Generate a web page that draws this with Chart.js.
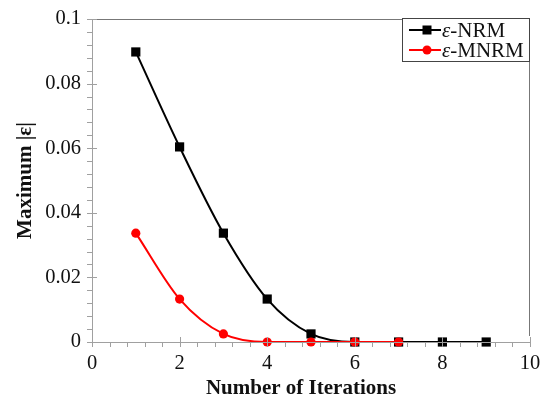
<!DOCTYPE html>
<html>
<head>
<meta charset="utf-8">
<script src="https://cdn.jsdelivr.net/npm/chart.js@4.4.1/dist/chart.umd.min.js"></script>
<style>
html,body{margin:0;padding:0;background:#fff;}
canvas{display:block;}
</style>
</head>
<body>
<canvas id="c" width="540" height="399"></canvas>
<script>
// ---- data ----
const iterationsNRM = [1, 2, 3, 4, 5, 6, 7, 8, 9];
const valuesNRM = [0.0898, 0.0604, 0.0337, 0.0133, 0.0025, 0, 0, 0, 0];
const iterationsMNRM = [1, 2, 3, 4, 5, 6, 7];
const valuesMNRM = [0.0337, 0.0133, 0.0025, 0, 0, 0, 0];
const seriesNames = ['ε-NRM', 'ε-MNRM'];
const xTitle = 'Number of Iterations';
const yTitle = 'Maximum |ε|';

const SERIF = '"Liberation Serif", "Times New Roman", serif';

const ticksPlugin = {
  id: 'customTicks',
  afterDraw(chart) {
    const ctx = chart.ctx;
    const xs = chart.scales.x, ys = chart.scales.y;
    const ca = chart.chartArea;
    ctx.save();
    // frame top and right
    ctx.strokeStyle = '#777';
    ctx.lineWidth = 1;
    ctx.beginPath();
    ctx.moveTo(ca.left, Math.round(ca.top) + 0.5);
    ctx.lineTo(ca.right, Math.round(ca.top) + 0.5);
    ctx.moveTo(Math.round(ca.right) - 0.5, ca.top);
    ctx.lineTo(Math.round(ca.right) - 0.5, ca.bottom - 6);
    ctx.stroke();
    // axis lines
    ctx.strokeStyle = '#a0a0a0';
    ctx.beginPath();
    ctx.moveTo(Math.round(ca.left) + 0.5, ca.top);
    ctx.lineTo(Math.round(ca.left) + 0.5, ca.bottom);
    ctx.moveTo(ca.left, Math.round(ca.bottom) + 0.5);
    ctx.lineTo(ca.right, Math.round(ca.bottom) + 0.5);
    // x ticks every 0.4, major every 2
    for (let i = 0; i <= 25; i++) {
      const v = i * 0.4;
      const px = Math.round(xs.getPixelForValue(v)) + 0.5;
      const major = (i % 5 === 0);
      ctx.moveTo(px, ca.bottom + (major ? -5 : 0));
      ctx.lineTo(px, ca.bottom + 5);
    }
    // y ticks every 0.004, major every 0.02
    for (let i = 0; i <= 25; i++) {
      const v = i * 0.004;
      const py = Math.round(ys.getPixelForValue(v)) + 0.5;
      const major = (i % 5 === 0);
      ctx.moveTo(ca.left - 5, py);
      ctx.lineTo(ca.left + (major ? 5 : 0), py);
    }
    ctx.stroke();

    // x axis title
    ctx.fillStyle = '#111';
    ctx.font = 'bold 21px ' + SERIF;
    ctx.textAlign = 'center';
    ctx.textBaseline = 'alphabetic';
    ctx.fillText(xTitle, 301, 394);

    // legend
    const lx = 402, ly = 18, lw = 127, lh = 43;
    ctx.fillStyle = '#fff';
    ctx.fillRect(lx, ly, lw, lh);
    ctx.strokeStyle = '#444';
    ctx.lineWidth = 1;
    ctx.strokeRect(lx + 0.5, ly + 0.5, lw, lh);
    const rows = [
      {name: seriesNames[0], color: '#000', shape: 'square', y: 30},
      {name: seriesNames[1], color: '#ff0000', shape: 'circle', y: 50}
    ];
    rows.forEach(r => {
      ctx.strokeStyle = r.color;
      ctx.lineWidth = 2;
      ctx.beginPath();
      ctx.moveTo(409, r.y);
      ctx.lineTo(441, r.y);
      ctx.stroke();
      ctx.fillStyle = r.color;
      if (r.shape === 'square') {
        ctx.fillRect(427 - 4.5, r.y - 4.5, 9, 9);
      } else {
        ctx.beginPath();
        ctx.arc(427, r.y, 4.5, 0, Math.PI * 2);
        ctx.fill();
      }
      ctx.fillStyle = '#111';
      ctx.textBaseline = 'alphabetic';
      ctx.textAlign = 'left';
      ctx.font = 'italic 21px ' + SERIF;
      const eps = r.name.charAt(0);
      ctx.fillText(eps, 442, r.y + 7);
      const w = ctx.measureText(eps).width;
      ctx.font = '21px ' + SERIF;
      ctx.fillText(r.name.slice(1), 442 + w, r.y + 7);
    });
    ctx.restore();
  }
};

new Chart(document.getElementById('c'), {
  type: 'line',
  data: {
    datasets: [
      {
        label: seriesNames[0],
        data: iterationsNRM.map((x, i) => ({x: x, y: valuesNRM[i]})),
        borderColor: '#000',
        backgroundColor: '#000',
        borderWidth: 2,
        pointStyle: 'rect',
        pointRadius: 6.5,
        pointBorderWidth: 0,
        cubicInterpolationMode: 'monotone',
        clip: false,
        order: 2
      },
      {
        label: seriesNames[1],
        data: iterationsMNRM.map((x, i) => ({x: x, y: valuesMNRM[i]})),
        borderColor: '#ff0000',
        backgroundColor: '#ff0000',
        borderWidth: 2,
        pointStyle: 'circle',
        pointRadius: 4.6,
        pointBorderWidth: 0,
        cubicInterpolationMode: 'monotone',
        clip: false,
        order: 1
      }
    ]
  },
  options: {
    responsive: false,
    animation: false,
    devicePixelRatio: 1,
    layout: {padding: {left: 0, right: 10, top: 19, bottom: 0}},
    plugins: {legend: {display: false}, tooltip: {enabled: false}},
    scales: {
      x: {
        type: 'linear',
        min: 0, max: 10,
        grid: {display: false, drawTicks: false},
        border: {display: false},
        ticks: {stepSize: 2, padding: 9, color: '#111', font: {family: SERIF, size: 20.5}, maxRotation: 0},
        title: {display: false},
        afterFit(s) { s.height = 57; s.paddingLeft = 0; s.paddingRight = 0; }
      },
      y: {
        type: 'linear',
        min: 0, max: 0.1,
        grid: {display: false, drawTicks: false},
        border: {display: false},
        ticks: {stepSize: 0.02, padding: 11, color: '#111', font: {family: SERIF, size: 20.5},
          callback: v => (Math.round(v * 100) / 100).toString()},
        title: {display: true, text: yTitle, color: '#111', font: {family: SERIF, size: 21, weight: 'bold'}, padding: {top: 13, bottom: 0}},
        afterFit(s) { s.width = 92; s.paddingTop = 0; s.paddingBottom = 0; }
      }
    }
  },
  plugins: [ticksPlugin]
});
</script>
</body>
</html>
